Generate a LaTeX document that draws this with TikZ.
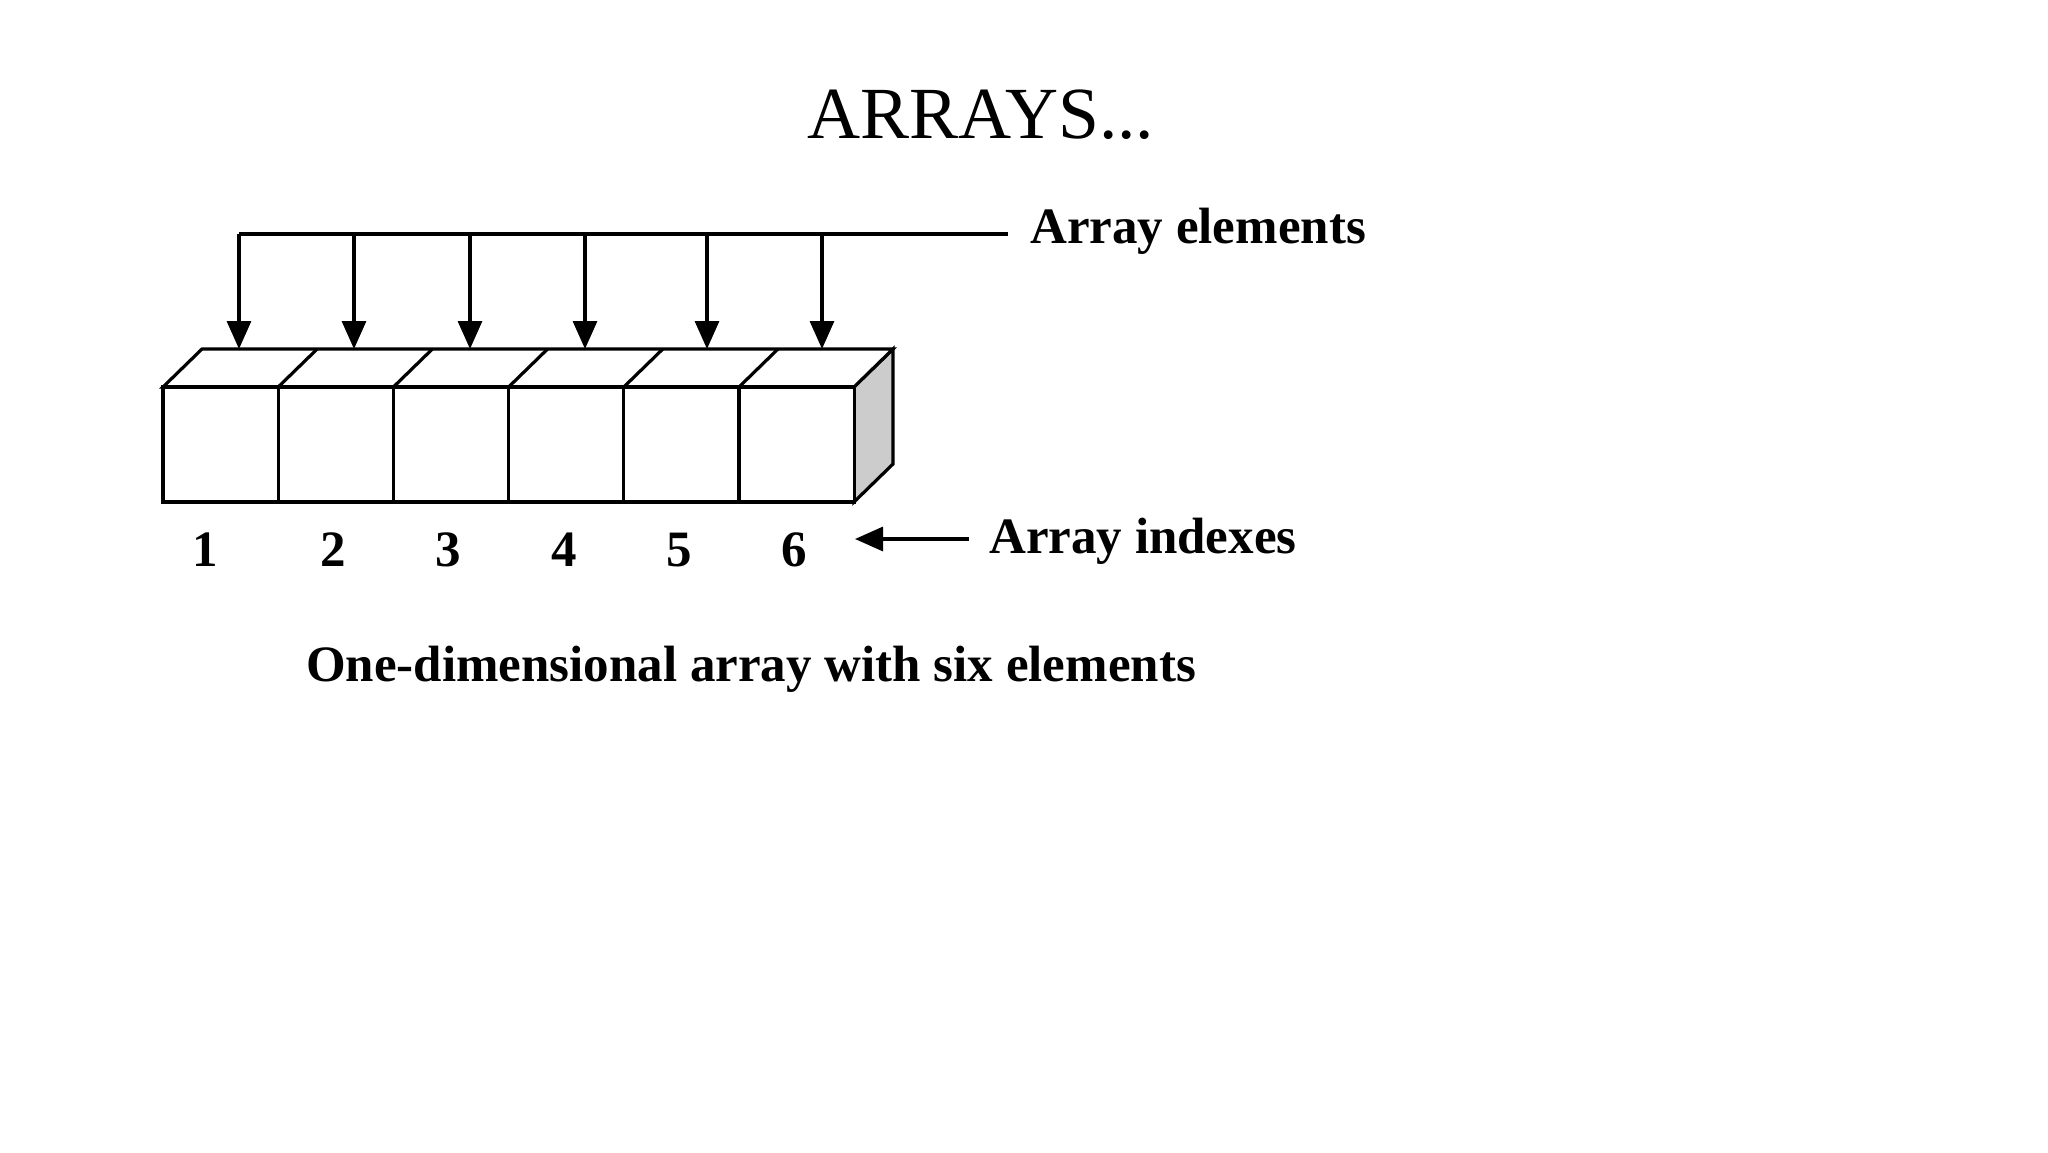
\documentclass[tikz,border=0pt]{standalone}
\usepackage{fontspec}
\setmainfont{Liberation Serif}
\usetikzlibrary{arrows.meta}
\tikzset{
  ln/.style={line width=3.2pt, line join=miter},
  cellface/.style={ln, fill=white},
  sideface/.style={ln, fill=black!20},
  ptr/.style={ln, -{Triangle[width=24pt,length=28pt]}},
  lbl/.style={inner sep=0pt, font=\fontsize{51}{60}\selectfont\bfseries},
  idx/.style={lbl, anchor=base},
  ttl/.style={inner sep=0pt, anchor=base, font=\fontsize{73.5}{80}\selectfont}
}
\begin{document}
\begin{tikzpicture}[x=1pt,y=-1pt]
\useasboundingbox (0,0) rectangle (2048,1152);
\fill[white] (0,0) rectangle (2048,1152);
% title
\node[ttl] (title) at (981,138) {ARRAYS...};
% side face
\draw[sideface] (854,387) -- (893,349) -- (893,464) -- (854,502) -- cycle;
% top face
\draw[cellface] (163,387) -- (202,349) -- (893,349) -- (854,387) -- cycle;
\foreach \i in {1,...,5}{
  \draw[ln] ({163+\i*115.2},387) -- ({202+\i*115.2},349);
}
% front cells
\foreach \i in {0,...,5}{
  \draw[cellface] ({163+\i*115.2},387) rectangle ({163+(\i+1)*115.2},502);
}
% pointer bus
\coordinate (busL) at (239,234);
\coordinate (busR) at (1008,234);
\draw[ln] (busL) -- (busR);
\foreach \n/\x in {1/239,2/354,3/470,4/585,5/707,6/822}{
  \coordinate (s\n) at (\x,234);
  \coordinate (c\n) at (\x,349);
  \draw[ptr] (s\n) -- (c\n);
}
\node[lbl, anchor=base west] (elem) at (1030,243) {Array elements};
% indexes
\foreach \n/\x in {1/205,2/333,3/448,4/564,5/679,6/794}{
  \node[idx] (i\n) at (\x,566) {\n};
}
\node[lbl, anchor=base west] (indexes) at (989,553) {Array indexes};
\coordinate (ia) at (969,539);
\coordinate (ib) at (855,539);
\draw[ptr] (ia) -- (ib);
% caption
\node[idx] (cap) at (751,681) {One-dimensional array with six elements};
\end{tikzpicture}
\end{document}
